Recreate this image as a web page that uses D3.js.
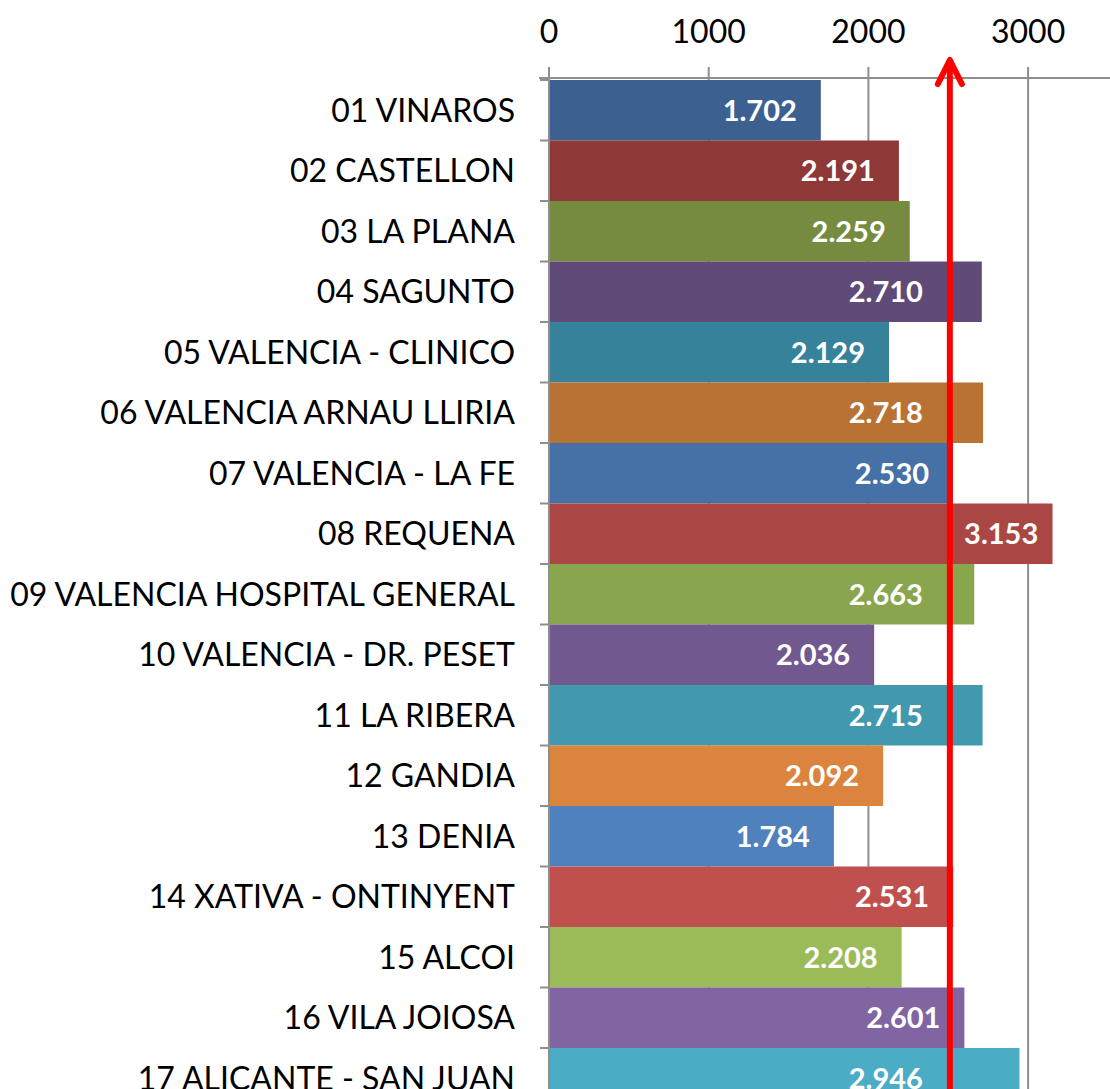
<!DOCTYPE html>
<html>
<head>
<meta charset="utf-8">
<script src="https://cdn.jsdelivr.net/npm/d3@7"></script>
<style>
  html, body { margin: 0; padding: 0; background: #fff; overflow: hidden; }
  svg { display: block; }
</style>
</head>
<body>
<svg id="chart" width="1110" height="1089"></svg>
<script>
const categories = [
  "01 VINAROS", "02 CASTELLON", "03 LA PLANA", "04 SAGUNTO",
  "05 VALENCIA - CLINICO", "06 VALENCIA ARNAU LLIRIA", "07 VALENCIA - LA FE",
  "08 REQUENA", "09 VALENCIA HOSPITAL GENERAL", "10 VALENCIA - DR. PESET",
  "11 LA RIBERA", "12 GANDIA", "13 DENIA", "14 XATIVA - ONTINYENT",
  "15 ALCOI", "16 VILA JOIOSA", "17 ALICANTE - SAN JUAN"
];
const values = [1702, 2191, 2259, 2710, 2129, 2718, 2530, 3153, 2663, 2036, 2715, 2092, 1784, 2531, 2208, 2601, 2946];
const valueLabels = ["1.702", "2.191", "2.259", "2.710", "2.129", "2.718", "2.530", "3.153", "2.663", "2.036", "2.715", "2.092", "1.784", "2.531", "2.208", "2.601", "2.946"];
const barColors = ["#3C6190", "#8E3937", "#768B40", "#5F4A78", "#35829A", "#B87234",
  "#4571A6", "#AA4744", "#89A64E", "#71598F", "#4198AF", "#DB843D",
  "#4F81BD", "#C0504E", "#9BBB59", "#8065A2", "#4BACC6"];
const tickValues = [0, 1000, 2000, 3000];
const tickLabels = ["0", "1000", "2000", "3000"];
const referenceValue = 2510;

const svg = d3.select("#chart");
const W = 1110, H = 1089;
const axisY = 78;
const x = d3.scaleLinear().domain([0, 3500]).range([549, 549 + 3500 * 0.1597]);
const y = d3.scaleBand().domain(categories).range([80, 80 + categories.length * 60.5]).paddingInner(0).paddingOuter(0);
const grey = "#8E8E8E";
const font = "Lato, 'Open Sans', sans-serif";

// gridlines
svg.append("g").selectAll("line").data(tickValues.slice(1)).join("line")
  .attr("x1", d => x(d)).attr("x2", d => x(d))
  .attr("y1", axisY - 11).attr("y2", H + 40)
  .attr("stroke", grey).attr("stroke-width", 2);

// bars
svg.append("g").selectAll("rect").data(values).join("rect")
  .attr("x", x(0) + 1)
  .attr("y", (d, i) => y(categories[i]))
  .attr("width", d => x(d) - x(0) - 1)
  .attr("height", y.bandwidth())
  .attr("fill", (d, i) => barColors[i]);

// top axis line
svg.append("line").attr("x1", 539).attr("x2", W).attr("y1", axisY).attr("y2", axisY)
  .attr("stroke", grey).attr("stroke-width", 2);
// value axis at 0
svg.append("line").attr("x1", x(0)).attr("x2", x(0)).attr("y1", axisY - 11).attr("y2", H + 40)
  .attr("stroke", grey).attr("stroke-width", 2);

// tick labels
svg.append("g").selectAll("text").data(tickValues).join("text")
  .attr("x", d => x(d)).attr("y", 43)
  .attr("text-anchor", "middle")
  .attr("font-family", font).attr("font-size", 32).attr("fill", "#000")
  .text((d, i) => tickLabels[i]);

// category ticks
const bounds = categories.map(c => y(c)).concat([y(categories[categories.length - 1]) + y.bandwidth()]);
svg.append("g").selectAll("line").data(bounds).join("line")
  .attr("x1", x(0) - 9).attr("x2", x(0))
  .attr("y1", d => d).attr("y2", d => d)
  .attr("stroke", grey).attr("stroke-width", 2);

// category labels
svg.append("g").selectAll("text").data(categories).join("text")
  .attr("x", 515).attr("y", d => y(d) + y.bandwidth() / 2)
  .attr("dy", "0.36em")
  .attr("text-anchor", "end")
  .attr("font-family", font).attr("font-size", 32).attr("fill", "#000")
  .text(d => d);

const ax = x(referenceValue);

// value labels (inside end, kept clear of the reference arrow)
const vl = svg.append("g").selectAll("text").data(values).join("text")
  .attr("y", (d, i) => y(categories[i]) + y.bandwidth() / 2)
  .attr("dy", "0.36em")
  .attr("text-anchor", "end")
  .attr("font-family", font).attr("font-weight", "bold").attr("font-size", 29).attr("fill", "#fff")
  .text((d, i) => valueLabels[i]);
vl.each(function(d) {
  const w = this.getComputedTextLength();
  const end = x(d);
  let right = end - 24;
  const left = right - w;
  if (left < ax + 8 && right > ax - 8) {
    if (end - ax > w + 20) right = (ax + end) / 2 + w / 2;
    else right = ax - 27;
  }
  d3.select(this).attr("x", right);
});

// red arrow
svg.append("line").attr("x1", ax).attr("x2", ax).attr("y1", H + 20).attr("y2", 62)
  .attr("stroke", "#FF0000").attr("stroke-width", 6);
svg.append("path")
  .attr("d", `M${ax - 12},${84} L${ax},${60} L${ax + 12},${84}`)
  .attr("fill", "none").attr("stroke", "#FF0000").attr("stroke-width", 6)
  .attr("stroke-linecap", "round").attr("stroke-linejoin", "round");
</script>
</body>
</html>
